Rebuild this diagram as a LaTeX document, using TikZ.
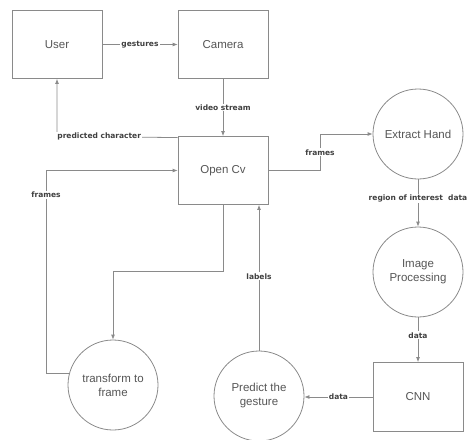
\documentclass[tikz,border=0pt]{standalone}
\usepackage{fontspec}
\setmainfont{Liberation Sans}
\newfontfamily\lblfont{DejaVu Sans}
\usetikzlibrary{arrows.meta}
\definecolor{edgegray}{HTML}{8A8A8A}
\definecolor{txtgray}{HTML}{555555}
\begin{document}
\begin{tikzpicture}[x=1pt,y=-1pt,
  boxnode/.style={draw=edgegray, line width=0.8pt, minimum width=90pt, minimum height=68pt, inner sep=0pt, font=\fontsize{11.5}{13}\selectfont, text=txtgray, align=center},
  circnode/.style={draw=edgegray, line width=0.8pt, circle, minimum size=90pt, inner sep=0pt, font=\fontsize{11.5}{14}\selectfont, text=txtgray, align=center},
  conn/.style={draw=edgegray, line width=0.8pt, -{Latex[length=5pt,width=4pt]}},
  lbl/.style={fill=white, inner sep=1pt, font=\lblfont\bfseries\fontsize{7.5}{8}\selectfont, text=black!75}]
\useasboundingbox (0,0) rectangle (470,439);
\node[boxnode] (user) at (57,44.5) {User};
\node[boxnode] (camera) at (223,44.5) {Camera};
\node[boxnode] (ocv) at (223,170.5) {Open Cv};
\node[circnode] (extract) at (418,134) {Extract Hand};
\node[circnode] (imgp) at (418,272) {Image\\Processing};
\node[boxnode, minimum height=69pt] (cnn) at (418,397) {CNN};
\node[circnode] (predict) at (259,396) {Predict the\\gesture};
\node[circnode] (tf) at (113,385) {transform to\\frame};
\coordinate (b1) at (320,0);
\coordinate (b2) at (0,271);
\coordinate (b3) at (46,0);
\draw[conn] (user) -- node[lbl] {gestures} (camera);
\draw[conn] (camera) -- node[lbl] {video stream} (ocv);
\draw[conn] ([yshift=-1.5pt]ocv.north west) -- node[lbl, pos=0.65] {predicted character} (ocv.north west -| user.south) -- (user.south);
\draw[conn] (ocv.east) -- (ocv.east -| b1) -- node[lbl] {frames} (b1 |- extract.west) -- (extract.west);
\draw[conn] (extract) -- node[lbl, pos=0.4] {region of interest\ \ data} (imgp);
\draw[conn] (imgp) -- node[lbl, pos=0.4] {data} (cnn);
\draw[conn] (cnn.west) -- node[lbl] {data} (cnn.west -| predict.east);
\draw[conn] (predict.north) -- node[lbl, pos=0.51] {labels} (predict.north |- ocv.south);
\draw[conn] (ocv.south) -- (ocv.south |- b2) -| (tf.north);
\draw[conn] (tf.165) -- (tf.165 -| b3) -- node[lbl, pos=0.88] {frames} (b3 |- ocv.west) -- (ocv.west);
\end{tikzpicture}
\end{document}
